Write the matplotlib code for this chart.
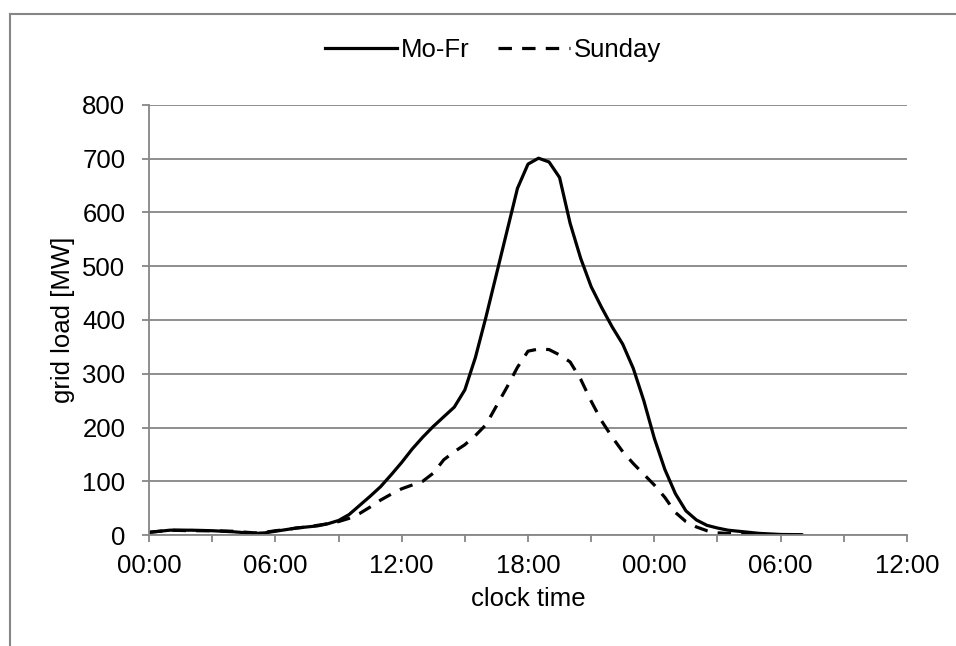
import matplotlib
matplotlib.use('Agg')
import matplotlib.pyplot as plt
from matplotlib.lines import Line2D

plt.rcParams['font.family'] = ['Liberation Sans', 'DejaVu Sans']

# half-hour steps since midnight (day 1 00:00 .. day 2 07:00)
hours = [i * 0.5 for i in range(63)]
mofr = [5, 7, 9, 9, 9, 8.5, 8, 7, 6, 4.5, 3, 4, 7, 10, 13, 15, 17, 21, 27, 38,
        55, 72, 90, 112, 135, 160, 182, 202, 220, 238, 270, 330, 405, 485, 565,
        645, 690, 701, 694, 665, 580, 515, 462, 423, 387, 355, 310, 250, 180,
        122, 77, 45, 28, 18, 13, 9, 7, 5, 3, 2, 1, 0.8, 0.5]
sunday = [5, 7, 9, 8.5, 8, 8, 8, 7.5, 7, 5.5, 4, 5, 8, 10, 13, 15, 18, 21, 25,
          31, 40, 52, 65, 76, 86, 93, 100, 115, 140, 155, 168, 185, 205, 240,
          275, 312, 342, 346, 345, 335, 322, 290, 249, 212, 182, 155, 133, 113,
          93, 70, 42, 25, 15, 8, 4, 3, 2, 1.5, 1, 0.7, 0.5, 0.4, 0.3]

tick_hours = list(range(0, 37, 3))
tick_labels = ['00:00', '', '06:00', '', '12:00', '', '18:00', '',
               '00:00', '', '06:00', '', '12:00']
y_ticks = list(range(0, 801, 100))

grey = '#868686'

fig = plt.figure(figsize=(9.56, 6.46), dpi=100)
ax = fig.add_axes([0.1559, 0.1718, 0.7928, 0.6657])

ax.plot(hours, mofr, color='black', lw=2.3, solid_joinstyle='round',
        label='Mo-Fr')
ax.plot(hours, sunday, color='black', lw=2.3, dashes=(4.2, 3.2),
        label='Sunday')

ax.set_xlim(0, 36)
ax.set_ylim(0, 800)
ax.set_xticks(tick_hours)
ax.set_xticklabels(tick_labels)
ax.set_yticks(y_ticks)
ax.tick_params(axis='both', labelsize=18.5, colors=grey, labelcolor='black',
               length=5, width=1.3)
ax.tick_params(axis='x', pad=9)
ax.tick_params(axis='y', pad=12)

ax.grid(True, axis='y', color=grey, lw=1.3)
ax.set_axisbelow(True)
for side in ['top', 'right']:
    ax.spines[side].set_visible(False)
for side in ['left', 'bottom']:
    ax.spines[side].set_color(grey)
    ax.spines[side].set_linewidth(1.3)

ax.set_xlabel('clock time', fontsize=18.5, labelpad=6)
ax.set_ylabel('grid load [MW]', fontsize=18.5, labelpad=5)

ax.legend(loc='center', bbox_to_anchor=(0.454, 1.128), ncol=2, frameon=False,
          fontsize=18.5, handlelength=2.8, handletextpad=0.15, columnspacing=1.1)

# outer chart frame (cropped on right and bottom)
x0 = 10 / 956
ytop = 1 - 14 / 646
fig.add_artist(Line2D([x0, 1], [ytop, ytop], color=grey, lw=1.5,
                      transform=fig.transFigure))
fig.add_artist(Line2D([x0, x0], [0, ytop], color=grey, lw=1.5,
                      transform=fig.transFigure))

fig.savefig('out.png', dpi=100, facecolor='white')
